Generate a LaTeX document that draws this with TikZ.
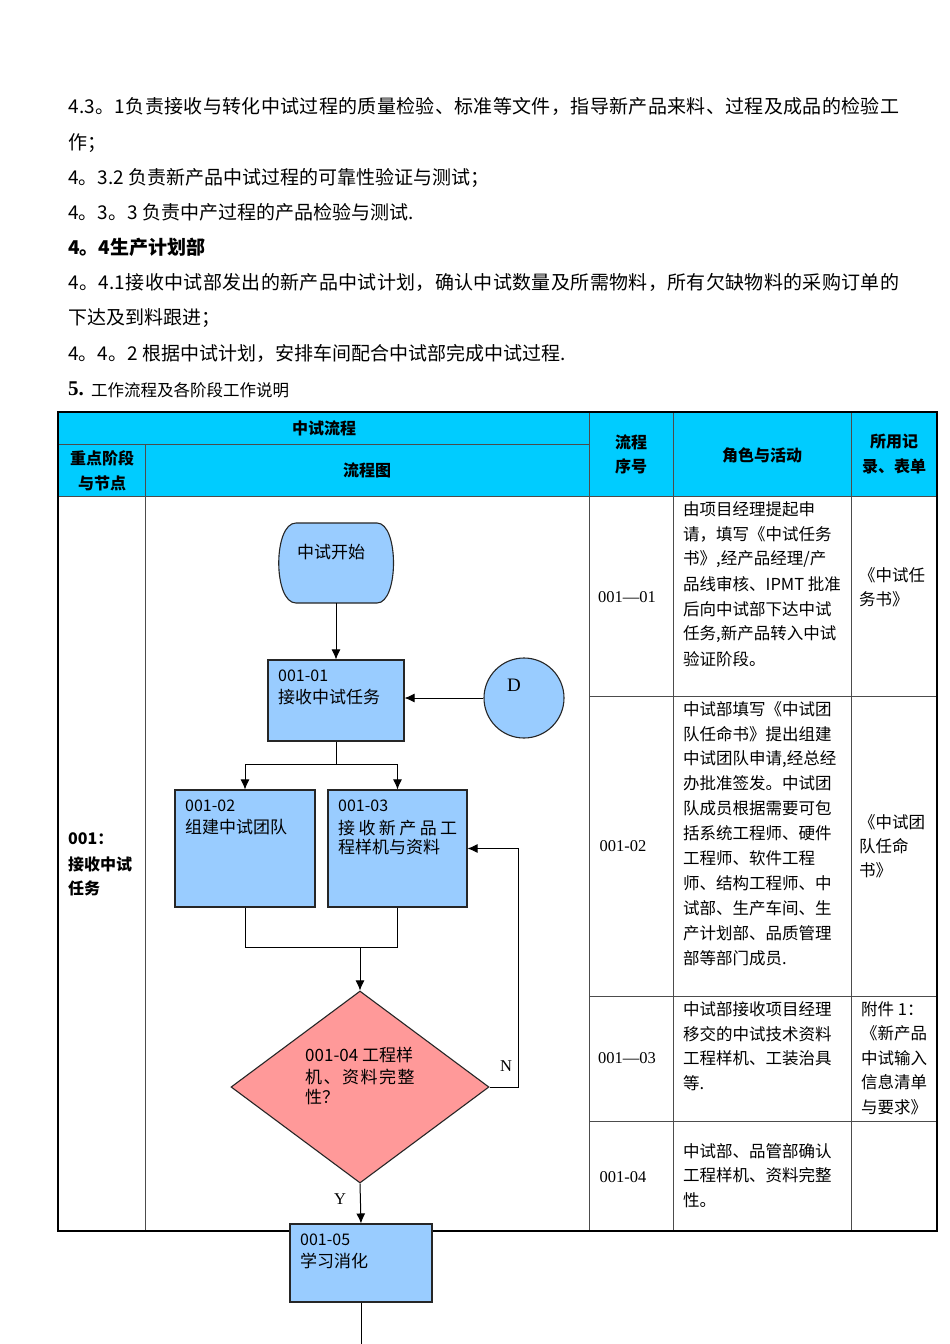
\documentclass[tikz,border=0pt]{standalone}
\usepackage{fontspec}
\setmainfont{Noto Sans CJK SC}
\newfontfamily\ser{Liberation Serif}
\usetikzlibrary{arrows.meta,shapes.geometric}
\definecolor{hdr}{HTML}{00CCFF}
\definecolor{boxblue}{HTML}{99CCFF}
\definecolor{diapink}{HTML}{FF9999}
\begin{document}
\begin{tikzpicture}[x=1pt,y=-1pt,
  toptxt/.style={anchor=west,inner sep=0,font=\fontsize{19}{20}\selectfont},
  hdrtxt/.style={anchor=center,inner sep=0,font=\fontsize{16}{17}\selectfont\bfseries},
  bodytxt/.style={anchor=west,inner sep=0,font=\fontsize{16.5}{17}\selectfont},
  numtxt/.style={anchor=center,inner sep=0,font=\fontsize{16.5}{17}\selectfont\ser},
  fctxt/.style={anchor=west,inner sep=0,font=\fontsize{17}{18}\selectfont},
  fcbox/.style={draw=black!85,line width=1.1pt,fill=boxblue,inner sep=0},
  tline/.style={line width=0.9pt,draw=black!70},
  arr/.style={line width=1pt,-{Latex[length=10pt,width=9pt]}},
  plain/.style={line width=1pt}]
\useasboundingbox (0,0) rectangle (950,1344);
\fill[white] (0,0) rectangle (950,1344);

% ---------- top text ----------
\node[toptxt] (l1) at (68,106) {\addfontfeatures{LetterSpace=1.8}4.3。1负责接收与转化中试过程的质量检验、标准等文件，指导新产品来料、过程及成品的检验工};
\node[toptxt] (l2) at (68,143) {作；};
\node[toptxt] (l3) at (68,178) {4。3.2 负责新产品中试过程的可靠性验证与测试；};
\node[toptxt] (l4) at (68,212) {4。3。3 负责中产过程的产品检验与测试.};
\node[toptxt,font=\fontsize{19}{20}\selectfont\bfseries] (l5) at (68,247) {4。4生产计划部};
\node[toptxt] (l6) at (68,282) {\addfontfeatures{LetterSpace=1.8}4。4.1接收中试部发出的新产品中试计划，确认中试数量及所需物料，所有欠缺物料的采购订单的};
\node[toptxt] (l7) at (68,318) {下达及到料跟进；};
\node[toptxt] (l8) at (68,353) {4。4。2 根据中试计划，安排车间配合中试部完成中试过程.};
\node[toptxt,font=\fontsize{21}{22}\selectfont\ser\bfseries] (l9a) at (68,389) {5.};
\node[toptxt,font=\fontsize{16.5}{17}\selectfont] (l9b) at (91,390) {工作流程及各阶段工作说明};

% ---------- table ----------
\fill[hdr] (58,412) rectangle (937,496);
\draw[tline] (58,444) -- (589,444);
\draw[tline] (58,496) -- (937,496);
\draw[tline] (145,444) -- (145,1231);
\draw[tline] (589,412) -- (589,1231);
\draw[tline] (673,412) -- (673,1231);
\draw[tline] (851,412) -- (851,1231);
\draw[tline] (589,696) -- (937,696);
\draw[tline] (589,996) -- (937,996);
\draw[tline] (589,1121) -- (937,1121);
\draw[line width=1.4pt] (58,412) rectangle (937,1231);

\node[hdrtxt] (h1) at (324,428) {中试流程};
\node[hdrtxt] (h2a) at (102,458) {重点阶段};
\node[hdrtxt] (h2b) at (102,483) {与节点};
\node[hdrtxt] (h3) at (367,470) {流程图};
\node[hdrtxt] (h4a) at (631,442) {流程};
\node[hdrtxt] (h4b) at (631,466) {序号};
\node[hdrtxt] (h5) at (762,455) {角色与活动};
\node[hdrtxt] (h6a) at (894,442) {所用记};
\node[hdrtxt] (h6b) at (894,466) {录、表单};

\node[bodytxt,font=\fontsize{16}{17}\selectfont\bfseries] (s1) at (68,839) {001：};
\node[bodytxt,font=\fontsize{16}{17}\selectfont\bfseries] (s2) at (68,864) {接收中试};
\node[bodytxt,font=\fontsize{16}{17}\selectfont\bfseries] (s3) at (68,888) {任务};

\node[numtxt] (n1) at (627,597) {001—01};
\node[numtxt] (n2) at (623,846) {001-02};
\node[numtxt] (n3) at (627,1058) {001—03};
\node[numtxt] (n4) at (623,1177) {001-04};

\foreach \t [count=\i] in {由项目经理提起申,请，填写《中试任务,{书》,经产品经理/产},品线审核、IPMT 批准,后向中试部下达中试,{任务,新产品转入中试},验证阶段。}
  \node[bodytxt] (ra\i) at (683,{509+25*(\i-1)}) {\t};
\foreach \t [count=\i] in {中试部填写《中试团,队任命书》提出组建,{中试团队申请,经总经},办批准签发。中试团,队成员根据需要可包,括系统工程师、硬件,工程师、软件工程,师、结构工程师、中,试部、生产车间、生,产计划部、品质管理,部等部门成员.}
  \node[bodytxt] (rb\i) at (683,{709+24.9*(\i-1)}) {\t};
\foreach \t [count=\i] in {中试部接收项目经理,移交的中试技术资料,工程样机、工装治具,等.}
  \node[bodytxt] (rc\i) at (683,{1009+24.7*(\i-1)}) {\t};
\foreach \t [count=\i] in {中试部、品管部确认,工程样机、资料完整,性。}
  \node[bodytxt] (rd\i) at (683,{1151+24.5*(\i-1)}) {\t};

\node[bodytxt] (fa1) at (859,575) {《中试任};
\node[bodytxt] (fa2) at (859,599) {务书》};
\node[bodytxt] (fb1) at (859,822) {《中试团};
\node[bodytxt] (fb2) at (859,846) {队任命};
\node[bodytxt] (fb3) at (859,870) {书》};
\foreach \t [count=\i] in {附件 1：,《新产品,中试输入,信息清单,与要求》}
  \node[bodytxt] (fc\i) at (861,{1009+24.5*(\i-1)}) {\t};

% ---------- flowchart ----------
\node[inner sep=0,minimum width=114pt,minimum height=80pt] (start) at (336,563) {};
\draw[draw=black!85,line width=1.1pt,fill=boxblue]
  (296,523) -- (377,523) .. controls (399,523) and (399,603) .. (377,603)
  -- (296,603) .. controls (273,603) and (273,523) .. (296,523) -- cycle;
\node[fctxt] (startt) at (297,552) {中试开始};

\node[fcbox,minimum width=136pt,minimum height=81pt] (b1) at (336,700.5) {};
\node[fctxt,font=\fontsize{16}{17}\selectfont] (b1a) at (278,676) {001-01};
\node[fctxt] (b1b) at (278,697) {接收中试任务};

\node[draw=black!85,line width=1.1pt,fill=boxblue,circle,minimum size=80pt,inner sep=0] (D) at (524,698) {};
\node[inner sep=0,font=\fontsize{19}{20}\selectfont\ser] (Dt) at (514,685) {D};

\node[fcbox,minimum width=140pt,minimum height=117pt] (b2) at (245,848.5) {};
\node[fctxt,font=\fontsize{16}{17}\selectfont] (b2a) at (185,806) {001-02};
\node[fctxt] (b2b) at (185,827) {组建中试团队};

\node[fcbox,minimum width=139pt,minimum height=117pt] (b3) at (397.5,848.5) {};
\node[fctxt,font=\fontsize{16}{17}\selectfont] (b3a) at (338,806) {001-03};
\node[fctxt] (b3b) at (338,828) {接\hspace{3.4pt}收\hspace{3.4pt}新\hspace{3.4pt}产\hspace{3.4pt}品\hspace{3.4pt}工};
\node[fctxt] (b3c) at (338,847) {程样机与资料};

\node[draw=black!85,line width=1.1pt,fill=diapink,diamond,minimum width=258pt,minimum height=192pt,inner sep=0] (dia) at (360,1087) {};
\node[fctxt] (d1) at (305,1055) {001-04 工程样};
\node[fctxt] (d2) at (305,1077) {机\hspace{1.5pt}、\hspace{1.5pt}资\hspace{1.5pt}料\hspace{1.5pt}完\hspace{1.5pt}整};
\node[fctxt] (d3) at (305,1097) {性？};

\node[fcbox,minimum width=142pt,minimum height=78pt] (b5) at (361,1263) {};
\node[fctxt,font=\fontsize{16}{17}\selectfont] (b5a) at (300,1240) {001-05};
\node[fctxt] (b5b) at (300,1261) {学习消化};

% connectors
\draw[arr] (start.south) -- (b1.north);
\draw[arr] (D.west) -- (b1.east |- D.west);
\draw[plain] (b1.south) -- ++(0,23) coordinate (sp);
\draw[arr] (sp) -| (b2.north);
\draw[arr] (sp) -| (b3.north);
\draw[plain] (b2.south) -- ++(0,40) coordinate (mL) -| (b3.south);
\coordinate (mg) at (dia.north |- mL);
\draw[arr] (mg) -- (dia.north);
\draw[arr] (dia.east) -- ++(29,0) |- (b3.east);
\node[inner sep=0,font=\fontsize{16.5}{17}\selectfont\ser] (Nl) at (506,1066) {N};
\draw[arr] (dia.south) -- (b5.north);
\node[inner sep=0,font=\fontsize{16.5}{17}\selectfont\ser] (Yl) at (340,1199) {Y};
\coordinate (endp) at (b5.south |- 0,1344);
\draw[plain] (b5.south) -- (endp);
\end{tikzpicture}
\end{document}
